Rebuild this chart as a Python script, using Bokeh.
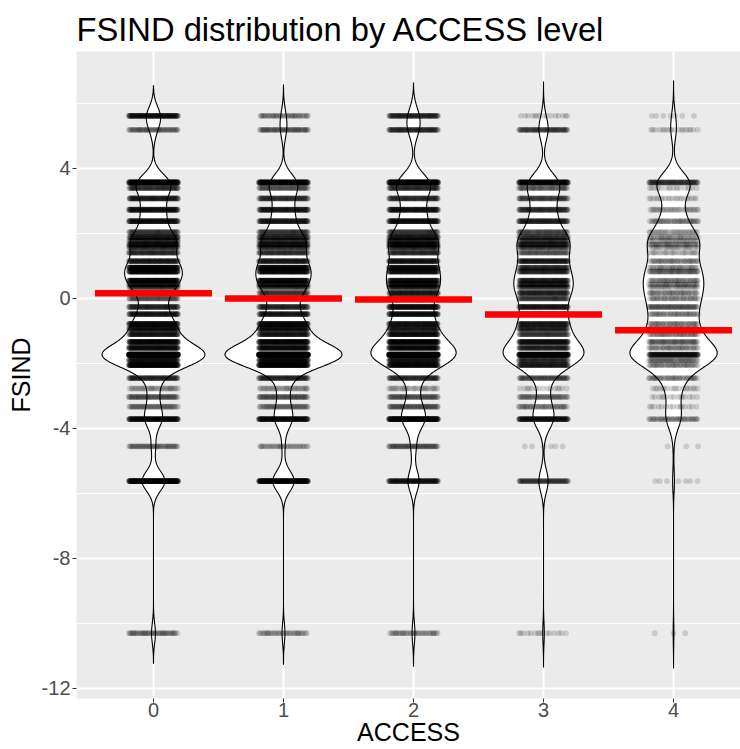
import numpy as np
from bokeh.plotting import figure
from bokeh.models import Range1d, FixedTicker
from bokeh.embed import file_html
from bokeh.resources import INLINE

# ---- data -------------------------------------------------------------
ACCESS = [0, 1, 2, 3, 4]

# distinct FSIND values observed in the sample
FSIND_LEVELS = [5.62, 5.19, 3.57, 3.40, 3.08, 2.73, 2.38, 2.04, 1.89, 1.77,
                1.66, 1.58, 1.41, 1.15, 0.95, 0.83, 0.55, 0.43, 0.35, 0.17,
                0.00, -0.26, -0.48, -0.78, -0.93, -1.10, -1.34, -1.52, -1.73, -1.90,
                -2.05, -2.45, -2.77, -3.03, -3.33, -3.71, -4.55, -5.62, -10.30]

# number of respondents at each FSIND value, per ACCESS level
COUNTS_ACCESS_0 = [158, 59, 300, 99, 126, 158, 158, 90, 135, 105,
                   120, 105, 105, 135, 225, 203, 203, 113, 90, 90,
                   68, 113, 135, 180, 158, 135, 203, 180, 765, 158,
                   270, 113, 36, 68, 54, 195, 54, 293, 50]
COUNTS_ACCESS_1 = [45, 63, 248, 68, 99, 135, 135, 90, 120, 98,
                   113, 98, 98, 135, 203, 180, 180, 113, 90, 90,
                   90, 113, 135, 180, 158, 135, 203, 180, 900, 180,
                   248, 113, 36, 68, 54, 195, 36, 270, 36]
COUNTS_ACCESS_2 = [113, 105, 300, 105, 105, 150, 165, 90, 135, 120,
                   128, 113, 105, 150, 165, 165, 165, 128, 120, 135,
                   90, 165, 165, 150, 135, 165, 225, 180, 570, 150,
                   195, 105, 30, 68, 68, 270, 68, 150, 38]
COUNTS_ACCESS_3 = [15, 83, 210, 60, 83, 105, 120, 75, 98, 90,
                   98, 83, 68, 135, 105, 113, 128, 105, 90, 120,
                   90, 135, 128, 135, 120, 90, 165, 120, 375, 105,
                   135, 75, 15, 53, 45, 165, 6, 90, 15]
COUNTS_ACCESS_4 = [7, 18, 98, 18, 21, 33, 45, 33, 38, 33,
                   38, 30, 27, 45, 38, 60, 45, 38, 33, 45,
                   42, 68, 45, 45, 42, 45, 60, 45, 165, 53,
                   45, 45, 18, 15, 15, 45, 3, 7, 3]
COUNTS = [COUNTS_ACCESS_0, COUNTS_ACCESS_1, COUNTS_ACCESS_2,
          COUNTS_ACCESS_3, COUNTS_ACCESS_4]

# group centre marked by the red bar
FSIND_CENTRE = [0.16, 0.00, -0.03, -0.49, -0.98]

Y_TICKS = [-12, -8, -4, 0, 4]
Y_TICK_LABELS = ["-12", "-8", "-4", "0", "4"]
Y_MINOR = [-10, -6, -2, 2, 6]

# ---- styling / stat parameters ---------------------------------------
BANDWIDTH = [0.31, 0.32, 0.34, 0.35, 0.36]
VIOLIN_WIDTH = 0.9
JITTER_HALF = 0.19
FONT = "Liberation Sans"

X0, X1 = -0.592, 4.515
Y0, Y1 = -12.31, 7.60


def kde(levels, counts, bw):
    lv = np.asarray(levels, float)
    w = np.asarray(counts, float)
    grid = np.linspace(lv.min() - 3 * bw, lv.max() + 3 * bw, 512)
    z = (grid[:, None] - lv[None, :]) / bw
    dens = (w[None, :] * np.exp(-0.5 * z ** 2)).sum(axis=1)
    dens /= w.sum() * bw * np.sqrt(2 * np.pi)
    return grid, dens


p = figure(width=740, height=749, output_backend="svg", toolbar_location=None,
           x_range=Range1d(X0, X1), y_range=Range1d(Y0, Y1),
           min_border_left=76, min_border_right=0,
           min_border_top=51, min_border_bottom=51,
           title="FSIND distribution by ACCESS level")
p.background_fill_color = "#EBEBEB"
p.border_fill_color = "white"
p.outline_line_color = None

p.title.text_font = FONT
p.title.text_font_size = "32.7px"
p.title.text_font_style = "normal"
p.title.text_color = "black"
p.title.align = "left"
p.title.standoff = 7
p.title.offset = 0

# ---- violins (area-scaled densities) ---------------------------------
dens_all = [kde(FSIND_LEVELS, c, bw) for c, bw in zip(COUNTS, BANDWIDTH)]
gmax = max(d.max() for _, d in dens_all)
vx, vy = [], []
for a, (grid, d) in zip(ACCESS, dens_all):
    hw = d / gmax * VIOLIN_WIDTH / 2
    vx.append(np.concatenate([a - hw, (a + hw)[::-1]]).tolist())
    vy.append(np.concatenate([grid, grid[::-1]]).tolist())
p.patches(xs=vx, ys=vy, fill_color="white", line_color="black", line_width=1.1)

# ---- jittered points -------------------------------------------------
px, py = [], []
for a, counts in zip(ACCESS, COUNTS):
    for i, (lvl, n) in enumerate(zip(FSIND_LEVELS, counts)):
        k = np.arange(n)
        frac = (k * 0.6180339887 + i * 0.37 + a * 0.11) % 1.0
        px.extend((a + (frac - 0.5) * 2 * JITTER_HALF).tolist())
        py.extend([lvl] * n)
p.scatter(x=px, y=py, size=5.8, fill_color="black", fill_alpha=0.145,
          line_color=None)

# ---- centre bars -----------------------------------------------------
p.segment(x0=[a - VIOLIN_WIDTH / 2 for a in ACCESS],
          x1=[a + VIOLIN_WIDTH / 2 for a in ACCESS],
          y0=FSIND_CENTRE, y1=FSIND_CENTRE,
          line_color="#FF0000", line_width=6.5, line_cap="butt")

# ---- axes and grid ---------------------------------------------------
p.xaxis.ticker = FixedTicker(ticks=ACCESS)
p.yaxis.ticker = FixedTicker(ticks=Y_TICKS, minor_ticks=Y_MINOR)
p.yaxis.major_label_overrides = dict(zip(Y_TICKS, Y_TICK_LABELS))
p.xgrid.grid_line_color = "white"
p.xgrid.grid_line_width = 2
p.ygrid.grid_line_color = "white"
p.ygrid.grid_line_width = 2
p.ygrid.minor_grid_line_color = "white"
p.ygrid.minor_grid_line_width = 1
for ax in (p.xaxis, p.yaxis):
    ax.axis_line_color = None
    ax.major_tick_line_color = "#333333"
    ax.major_tick_line_width = 1
    ax.major_tick_out = 4
    ax.major_tick_in = 0
    ax.minor_tick_line_color = None
    ax.major_label_text_font = FONT
    ax.major_label_text_font_size = "20px"
    ax.major_label_text_color = "#4D4D4D"
    ax.axis_label_text_font = FONT
    ax.axis_label_text_font_size = "25px"
    ax.axis_label_text_font_style = "normal"
    ax.axis_label_text_color = "black"

p.xaxis.axis_label = "ACCESS"
p.xaxis.major_label_standoff = 0
p.xaxis.axis_label_standoff = -2
p.yaxis.axis_label = "FSIND"
p.yaxis.major_label_standoff = 2
p.yaxis.axis_label_standoff = 4

open("out.html", "w").write(file_html(p, INLINE))
